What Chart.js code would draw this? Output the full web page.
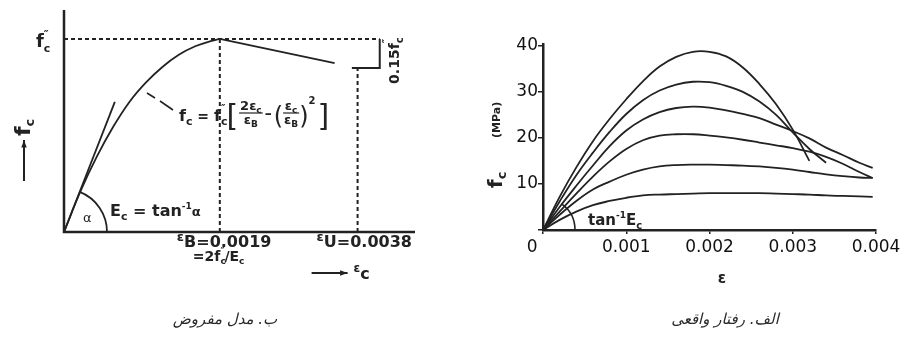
<!DOCTYPE html>
<html>
<head>
<meta charset="utf-8">
<script src="https://cdn.jsdelivr.net/npm/chart.js@4/dist/chart.umd.min.js"></script>
<style>
  body { margin: 0; background: #fff; width: 905px; height: 340px; position: relative; overflow: hidden; }
  canvas { position: absolute; top: 0; }
  #model { left: 0; }
  #tests { left: 450px; }
  .caption { position: absolute; top: 310px; width: 300px; text-align: center; direction: rtl;
             font: italic 15px "DejaVu Sans", sans-serif; color: #2a2a2a; }
</style>
</head>
<body>
<canvas id="model" width="450" height="340"></canvas>
<canvas id="tests" width="455" height="340"></canvas>
<div class="caption" style="left:75px">ب. مدل مفروض</div>
<div class="caption" style="left:575px">الف. رفتار واقعی</div>
<script>
// ---- left panel: assumed model (stress as a fraction of f''c) ----
const modelStrain = [0, 0.0002, 0.0004, 0.0006, 0.0008, 0.001, 0.0012, 0.0014, 0.0016, 0.0018, 0.0019];
const modelStress = [0, 0.21, 0.39, 0.545, 0.675, 0.775, 0.855, 0.918, 0.962, 0.99, 1.0];
const descStrain = [0.0019, 0.0033];
const descStress = [1.0, 0.875];
const tangentStrain = [0, 0.00062];
const tangentStress = [0, 0.674];
const peakGuideStrain = [0, 0.00385];
const peakGuideStress = [1, 1];
const epsB = 0.0019;
const epsUDrawn = 0.00358;   // where the sketch puts eps_u = 0.0038
const dropLevel = 0.85;
const bracketStrain = [0.00351, 0.00385, 0.00385];
const bracketStress = [0.85, 0.85, 1.0];

// ---- right panel: measured curves (MPa) ----
const strainGrid = [0, 0.0002, 0.0004, 0.0006, 0.0008, 0.001, 0.0012, 0.0014, 0.0016, 0.0018, 0.002,
                    0.0022, 0.0024, 0.0026, 0.0028, 0.003, 0.0032, 0.0034, 0.0036, 0.0038, 0.00396];
const c1Stress = [0, 7.2, 13.6, 19.3, 24.1, 28.4, 32.3, 35.5, 37.6, 38.7, 38.7, 37.7, 35.3, 31.7, 27.3, 21.8, 15.0];
const c2Stress = [0, 6.2, 11.9, 16.8, 21.3, 25.2, 28.2, 30.3, 31.6, 32.2, 32.1, 31.3, 30.0, 27.9, 25.0, 21.2, 17.6, 14.6];
const c3Stress = [0, 5.0, 9.6, 14.0, 18.2, 21.6, 24.0, 25.6, 26.5, 26.8, 26.6, 26.0, 25.2, 24.3, 22.9, 21.5, 19.9, 17.9, 16.3, 14.6, 13.5];
const c4Stress = [0, 4.0, 7.9, 11.6, 14.9, 17.6, 19.5, 20.5, 20.8, 20.8, 20.5, 20.1, 19.6, 19.0, 18.4, 17.8, 17.0, 15.9, 14.4, 12.6, 11.3];
const c5Stress = [0, 3.3, 6.3, 8.8, 10.5, 12.0, 13.1, 13.8, 14.1, 14.2, 14.2, 14.1, 14.0, 13.8, 13.5, 13.1, 12.6, 12.1, 11.7, 11.4, 11.3];
const c6Stress = [0, 2.2, 4.0, 5.4, 6.3, 7.0, 7.5, 7.7, 7.8, 7.9, 8.0, 8.0, 8.0, 8.0, 7.9, 7.8, 7.7, 7.5, 7.4, 7.3, 7.2];
const xTickLabels = ['0    ', '0.001', '0.002', '0.003', '0.004'];
const yTickLabels = ['', '10', '20', '30', '40'];

const ink = '#222';
const FONT = '"DejaVu Sans", sans-serif';

let pts = function(xs, ys) {
    return ys.map((v, i) => ({ x: xs[i], y: v }));
};

let line = function(data, extra) {
    return Object.assign({
        data: data, showLine: true, borderColor: ink, borderWidth: 1.8,
        pointRadius: 0, fill: false, clip: false
    }, extra || {});
};

// draws a run of text pieces: [text, size, dy, noAdvance, bold]
let runs = function(ctx, x, y, parts) {
    parts.forEach(p => {
        ctx.font = (p[4] ? 'bold ' : '') + p[1] + 'px ' + FONT;
        ctx.fillText(p[0], x, y + (p[2] || 0));
        if (!p[3]) x += ctx.measureText(p[0]).width;
    });
    return x;
};

let frac = function(ctx, x, y, num, den) {
    ctx.save();
    ctx.globalAlpha = 0;
    let wn = runs(ctx, 0, -999, num), wd = runs(ctx, 0, -999, den);
    ctx.restore();
    let w = Math.max(wn, wd) + 2;
    runs(ctx, x + (w - wn) / 2, y - 3, num);
    runs(ctx, x + (w - wd) / 2, y + 11, den);
    ctx.lineWidth = 1.2;
    ctx.beginPath(); ctx.moveTo(x, y); ctx.lineTo(x + w, y); ctx.stroke();
    return x + w;
};

let arrow = function(ctx, x1, y1, x2, y2) {
    let a = Math.atan2(y2 - y1, x2 - x1);
    ctx.lineWidth = 2;
    ctx.beginPath(); ctx.moveTo(x1, y1); ctx.lineTo(x2, y2); ctx.stroke();
    ctx.beginPath();
    ctx.moveTo(x2, y2);
    ctx.lineTo(x2 - 8 * Math.cos(a - 0.35), y2 - 8 * Math.sin(a - 0.35));
    ctx.lineTo(x2 - 8 * Math.cos(a + 0.35), y2 - 8 * Math.sin(a + 0.35));
    ctx.closePath(); ctx.fill();
};

// ---- left chart ----
const modelDecor = {
    id: 'modelDecor',
    beforeDatasetsDraw(chart) {
        const ctx = chart.ctx, xs = chart.scales.x, ys = chart.scales.y;
        const x0 = xs.getPixelForValue(0), y0 = ys.getPixelForValue(0);
        ctx.save();
        ctx.strokeStyle = ink; ctx.lineWidth = 2.5;
        ctx.beginPath();
        ctx.moveTo(x0, ys.getPixelForValue(ys.max));
        ctx.lineTo(x0, y0);
        ctx.lineTo(xs.getPixelForValue(xs.max), y0);
        ctx.stroke();
        ctx.restore();
    },
    afterDatasetsDraw(chart) {
        const ctx = chart.ctx, xs = chart.scales.x, ys = chart.scales.y;
        const x0 = xs.getPixelForValue(0), y0 = ys.getPixelForValue(0);
        ctx.save();
        ctx.fillStyle = ink; ctx.strokeStyle = ink;
        ctx.textBaseline = 'alphabetic';

        // angle arc at the origin
        const tx = xs.getPixelForValue(tangentStrain[1]), ty = ys.getPixelForValue(tangentStress[1]);
        const ang = Math.atan2(ty - y0, tx - x0);
        ctx.lineWidth = 1.8;
        ctx.beginPath(); ctx.arc(x0, y0, 43, ang, 0); ctx.stroke();
        runs(ctx, x0 + 19, y0 - 10, [['α', 13, 0]]);
        runs(ctx, x0 + 46, y0 - 16, [['E', 16, 0, false, true], ['c', 11, 4, false, true],
            [' = tan', 16, 0, false, true], ['-1', 9, -7, false, true], ['α', 13, 0, false, true]]);

        // f''c at the peak level
        const yPeak = ys.getPixelForValue(1);
        runs(ctx, 36, yPeak + 8, [['f', 18, 0, false, true], ['c', 11, 5, true, true], ['″', 11, -9, false, true]]);

        // rotated 0.15 f''c beside the bracket
        ctx.save();
        ctx.translate(399, ys.getPixelForValue(dropLevel) + 16);
        ctx.rotate(-Math.PI / 2);
        runs(ctx, 0, 0, [['0.15f', 14, 0, false, true], ['c', 10, 4, true, true], ['″', 10, -9, false, true]]);
        ctx.restore();

        // vertical axis label with arrow
        ctx.save();
        ctx.translate(30, 136);
        ctx.rotate(-Math.PI / 2);
        runs(ctx, 0, 0, [['f', 22, 0, false, true], ['c', 13, 4, false, true]]);
        ctx.restore();
        arrow(ctx, 24, 181, 24, 140);

        // strain labels under the axis
        const xB = xs.getPixelForValue(epsB), xU = xs.getPixelForValue(epsUDrawn);
        runs(ctx, xB - 43, y0 + 15, [['ε', 13, -6, false, true], ['B=0.0019', 16, 0, false, true]]);
        runs(ctx, xB - 27, y0 + 29, [['=2f', 14, 0, false, true], ['c', 9, 3, true, true], ['″', 9, -7, false, true],
            ['/E', 14, 0, false, true], ['c', 9, 3, false, true]]);
        runs(ctx, xU - 41, y0 + 15, [['ε', 13, -6, false, true], ['U=0.0038', 16, 0, false, true]]);
        arrow(ctx, xU - 46, y0 + 41, xU - 10, y0 + 41);
        runs(ctx, xU - 4, y0 + 47, [['ε', 12, -7, false, true], ['c', 16, 0, false, true]]);

        // formula with leader line
        ctx.lineWidth = 1.6;
        ctx.beginPath(); ctx.moveTo(147, 93); ctx.lineTo(155, 98); ctx.moveTo(160, 101); ctx.lineTo(173, 110); ctx.stroke();
        let x = runs(ctx, 179, 121, [['f', 16, 0, false, true], ['c', 11, 4, false, true], [' = ', 14, 0, false, true],
            ['f', 16, 0, false, true], ['c', 11, 4, true, true], ['″', 10, -9, false, true]]);
        x = runs(ctx, x + 1, 126, [['[', 30, 0]]);
        x = frac(ctx, x + 1, 113, [['2ε', 13, 0, false, true], ['c', 9, 3, false, true]],
                                  [['ε', 13, 0, false, true], ['B', 9, 3, false, true]]);
        x = runs(ctx, x + 2, 118, [['–', 14, 0, false, true]]);
        x = runs(ctx, x + 2, 124, [['(', 24, 0]]);
        x = frac(ctx, x, 113, [['ε', 13, 0, false, true], ['c', 9, 3, false, true]],
                              [['ε', 13, 0, false, true], ['B', 9, 3, false, true]]);
        x = runs(ctx, x, 124, [[')', 24, 0], ['2', 10, -20, false, true]]);
        runs(ctx, x + 2, 126, [[']', 30, 0]]);
        ctx.restore();
    }
};

const dash = { borderDash: [4, 3], borderWidth: 2 };

new Chart(document.getElementById('model').getContext('2d'), {
    type: 'scatter',
    data: {
        datasets: [
            line(pts(modelStrain, modelStress), { tension: 0.4 }),
            line(pts(descStrain, descStress)),
            line(pts(tangentStrain, tangentStress)),
            line(pts(peakGuideStrain, peakGuideStress), dash),
            line(pts([epsB, epsB], [0, 1]), dash),
            line(pts([epsUDrawn, epsUDrawn], [0, dropLevel]), dash),
            line(pts(bracketStrain, bracketStress), { borderWidth: 2 })
        ]
    },
    options: {
        responsive: false, animation: false, events: [],
        layout: { padding: { left: 64, right: 35, top: 10, bottom: 108 } },
        plugins: { legend: { display: false }, tooltip: { enabled: false } },
        scales: {
            x: { type: 'linear', display: false, min: 0, max: 0.00428 },
            y: { type: 'linear', display: false, min: 0, max: 1.15 }
        }
    },
    plugins: [modelDecor]
});

// ---- right chart ----
const testDecor = {
    id: 'testDecor',
    afterDatasetsDraw(chart) {
        const ctx = chart.ctx, xs = chart.scales.x, ys = chart.scales.y;
        const x0 = xs.getPixelForValue(0), y0 = ys.getPixelForValue(0);
        ctx.save();
        ctx.fillStyle = ink; ctx.strokeStyle = ink;
        ctx.lineWidth = 1.6;
        ctx.beginPath(); ctx.arc(x0, y0, 32, -0.95, 0); ctx.stroke();
        runs(ctx, x0 + 45, y0 - 5, [['tan', 15, 0, false, true], ['-1', 9, -7, false, true],
            ['E', 15, 0, false, true], ['c', 10, 4, false, true]]);

        ctx.save();
        ctx.translate(52, 188);
        ctx.rotate(-Math.PI / 2);
        runs(ctx, 0, 0, [['f', 20, 0, false, true], ['c', 13, 4, false, true]]);
        runs(ctx, 50, -2, [['(MPa)', 11, 0, false, true]]);
        ctx.restore();

        ctx.textAlign = 'center';
        runs(ctx, xs.getPixelForValue(0.00215), 283, [['ε', 15, 0, false, true]]);
        ctx.restore();
    }
};

const smooth = { tension: 0.4 };

new Chart(document.getElementById('tests').getContext('2d'), {
    type: 'scatter',
    data: {
        datasets: [c1Stress, c2Stress, c3Stress, c4Stress, c5Stress, c6Stress]
            .map(s => line(pts(strainGrid, s), smooth))
    },
    options: {
        responsive: false, animation: false, events: [],
        layout: { padding: { left: 0, right: 29, top: 44, bottom: 0 } },
        plugins: { legend: { display: false }, tooltip: { enabled: false } },
        scales: {
            x: {
                type: 'linear', min: 0, max: 0.004,
                afterFit: s => { s.height = 110; },
                border: { display: true, color: ink, width: 2.5 },
                grid: { drawOnChartArea: false, drawTicks: true, tickLength: 4, color: ink, lineWidth: 1.5 },
                ticks: {
                    stepSize: 0.001, includeBounds: false, padding: 3, color: '#111', maxRotation: 0,
                    font: { family: FONT, size: 17 },
                    callback: (v, i) => xTickLabels[i]
                }
            },
            y: {
                type: 'linear', min: 0, max: 40.4,
                afterFit: s => { s.width = 93; },
                border: { display: true, color: ink, width: 2.5 },
                grid: { drawOnChartArea: false, drawTicks: true, tickLength: 5, color: ink, lineWidth: 1.5 },
                ticks: {
                    stepSize: 10, includeBounds: false, padding: 0, color: '#111',
                    font: { family: FONT, size: 17 },
                    callback: (v, i) => yTickLabels[i]
                }
            }
        }
    },
    plugins: [testDecor]
});
</script>
</body>
</html>
